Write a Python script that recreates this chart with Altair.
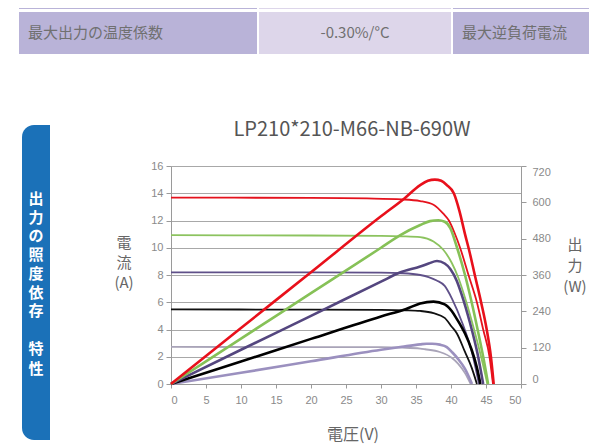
import altair as alt
import pandas as pd

# ---------------- data ----------------
levels = ["200", "400", "600", "800", "1000"]

# I-V curves: voltage (V) and current (A)
iv_v_1000 = [0, 20, 28, 33, 35.6, 37.5, 38.9, 39.7, 40.5, 41.3, 42.5, 43.7, 44.6, 45.5, 46.0]
iv_i_1000 = [13.68, 13.66, 13.62, 13.55, 13.43, 13.16, 12.5, 12.0, 11.1, 10.0, 8.0, 6.0, 4.0, 2.0, 0]
iv_v_800 = [0, 20, 30, 33, 35.6, 37.5, 38.9, 40.1, 41.05, 42.2, 43.3, 44.3, 45.2]
iv_i_800 = [10.92, 10.9, 10.87, 10.84, 10.78, 10.46, 9.85, 8.9, 7.8, 6.0, 4.0, 2.0, 0]
iv_v_600 = [0, 20, 30, 33, 35.6, 36.8, 37.96, 39.1, 40.2, 41.6, 42.95, 44.0]
iv_i_600 = [8.2, 8.19, 8.17, 8.13, 8.0, 7.85, 7.6, 7.2, 6.2, 4.5, 2.4, 0]
iv_v_400 = [0, 20, 30, 33.6, 35.6, 37.5, 39.1, 40.1, 40.8, 42.0, 42.95, 43.7]
iv_i_400 = [5.47, 5.46, 5.44, 5.41, 5.36, 5.2, 4.85, 4.2, 3.75, 2.35, 1.2, 0]
iv_v_200 = [0, 20, 30, 33, 35.6, 36.3, 38.4, 40.1, 41.0, 42.0, 42.8]
iv_i_200 = [2.72, 2.71, 2.7, 2.67, 2.6, 2.55, 2.35, 1.93, 1.5, 0.8, 0]

# P-V curves: voltage (V) and power (W)
pv_v_1000 = [0, 10, 20, 30, 33.3, 35.6, 36.7, 37.7, 38.6, 39.4, 40.4, 41.2, 42.0, 42.6, 43.4, 44.3, 45.1, 45.7, 46.1]
pv_p_1000 = [0, 185, 369, 554, 612, 657, 671, 675, 671, 657, 630, 572, 495, 441, 360, 270, 180, 90, 0]
pv_v_800 = [0, 10, 20, 30, 32.7, 35.6, 37.0, 38.2, 39.1, 39.9, 40.8, 42.0, 42.95, 43.8, 44.6, 45.3]
pv_p_800 = [0, 150, 300, 450, 491, 525, 538, 541, 536, 515, 455, 360, 270, 180, 90, 0]
pv_v_600 = [0, 10, 20, 30, 32.7, 35.6, 36.8, 38.0, 39.1, 39.9, 40.8, 41.5, 42.7, 43.8, 44.6]
pv_p_600 = [0, 113, 225, 338, 368, 388, 398, 406, 398, 380, 342, 297, 203, 99, 0]
pv_v_400 = [0, 10, 20, 30, 33.6, 35.6, 37.5, 39.1, 40.1, 40.8, 41.5, 42.0, 42.95, 43.7, 44.2]
pv_p_400 = [0, 74, 149, 223, 248, 266, 272, 263, 241, 216, 189, 167, 113, 54, 0]
pv_v_200 = [0, 10, 20, 30, 33, 35.6, 36.5, 37.3, 38.4, 39.4, 40.2, 41.0, 42.0, 43.0]
pv_p_200 = [0, 37, 75, 113, 123, 131, 133, 133, 130, 122, 104, 83, 50, 0]

curve_keys = ["I200", "I400", "I600", "I800", "I1000", "P200", "P400", "P600", "P800", "P1000"]
curve_colors = ["#a9a4b8", "#111111", "#5f5089", "#8cc35f", "#e5121d",
                "#9b90bf", "#000000", "#54467f", "#86c157", "#e8101b"]

x_ticks = list(range(0, 51, 5))
left_ticks = list(range(0, 17, 2))
right_ticks = [0, 120, 240, 360, 480, 600, 720]

title_text = "LP210*210-M66-NB-690W"
x_title = "電圧(V)"
left_title = "電\n流\n(A)"
right_title = "出\n力\n(W)"
side_label_1 = "出\n力\nの\n照\n度\n依\n存"
side_label_2 = "特\n性"
table_cells = ["最大出力の温度係数", "-0.30%/°C", "最大逆負荷電流"]

# ---------------- tables ----------------
iv_rows = []
for lv, vs, cs in [("200", iv_v_200, iv_i_200), ("400", iv_v_400, iv_i_400),
                   ("600", iv_v_600, iv_i_600), ("800", iv_v_800, iv_i_800),
                   ("1000", iv_v_1000, iv_i_1000)]:
    for v, c in zip(vs, cs):
        iv_rows.append({"V": v, "I": c, "curve": "I" + lv})
iv_df = pd.DataFrame(iv_rows)

pv_rows = []
for lv, vs, ps in [("200", pv_v_200, pv_p_200), ("400", pv_v_400, pv_p_400),
                   ("600", pv_v_600, pv_p_600), ("800", pv_v_800, pv_p_800),
                   ("1000", pv_v_1000, pv_p_1000)]:
    for v, p in zip(vs, ps):
        pv_rows.append({"V": v, "P": p, "curve": "P" + lv})
pv_df = pd.DataFrame(pv_rows)

one = pd.DataFrame({"k": [0]})

W, H = 350, 218
color = alt.Color("curve:N", scale=alt.Scale(domain=curve_keys, range=curve_colors), legend=None)
xenc = alt.X("V:Q", scale=alt.Scale(domain=[0, 50], nice=False),
             axis=alt.Axis(values=x_ticks, title=None, grid=False, labelFont="Liberation Sans",
                           labelFontSize=11, labelColor="#8a8a8a", tickColor="#9a9a9a",
                           domainColor="#9a9a9a", tickSize=4, labelPadding=6))

iv_layer = alt.Chart(iv_df).mark_line(strokeWidth=1.8, interpolate="monotone").encode(
    x=xenc,
    y=alt.Y("I:Q", scale=alt.Scale(domain=[0, 16], nice=False),
            axis=alt.Axis(values=left_ticks, title=None, grid=True, gridColor="#a8a8a8",
                          gridWidth=1, labelFont="Liberation Sans", labelFontSize=11,
                          labelColor="#8a8a8a", tickColor="#9a9a9a", domainColor="#9a9a9a",
                          tickSize=5, labelPadding=3)),
    color=color,
    detail="curve:N",
)

pv_layer = alt.Chart(pv_df).mark_line(strokeWidth=2.6, interpolate="monotone").encode(
    x=xenc,
    y=alt.Y("P:Q", scale=alt.Scale(domain=[0, 720], nice=False),
            axis=alt.Axis(values=right_ticks, orient="right", title=None, grid=False,
                          labelFont="Liberation Sans", labelFontSize=11, labelColor="#8a8a8a",
                          tickColor="#9a9a9a", domainColor="#9a9a9a", tickSize=5,
                          labelPadding=6, labelFlush=True)),
    color=color,
    detail="curve:N",
)

# page (X, Y) -> plot coords (X-171, Y-166)
def rect(x1, y1, x2, y2, fill, **kw):
    return alt.Chart(one).mark_rect(color=fill, **kw).encode(
        x=alt.value(x1 - 171), x2=alt.value(x2 - 171),
        y=alt.value(y1 - 166), y2=alt.value(y2 - 166))

def text(s, x, y, size, fill, align="center", font="Noto Sans CJK JP", weight="normal", lh=None):
    kw = dict(text=s, align=align, baseline="middle", font=font, fontSize=size,
              color=fill, fontWeight=weight, lineBreak="\n")
    if lh is not None:
        kw["lineHeight"] = lh
    return alt.Chart(one).mark_text(**kw).encode(x=alt.value(x - 171), y=alt.value(y - 166))

deco = [
    rect(19, 0, 257, 9, "#b9b3d8"), rect(259, 0, 451, 9, "#ddd6ea"), rect(453, 0, 600, 9, "#b9b3d8"),
    rect(19, 12, 257, 54, "#b9b3d8"), rect(259, 12, 451, 54, "#ddd6ea"), rect(453, 12, 600, 54, "#b9b3d8"),
    text(table_cells[0], 28, 33, 15, "#707070", align="left"),
    text(table_cells[1], 355, 33, 15, "#707070"),
    text(table_cells[2], 462, 33, 15, "#707070", align="left"),
    rect(22, 125, 50, 440, "#1b71b8", cornerRadiusTopLeft=12, cornerRadiusBottomLeft=12),
    text(side_label_1, 36, 199, 15, "white", weight="bold", lh=18.7),
    text(side_label_2, 36, 349, 15, "white", weight="bold", lh=19.5),
    text(title_text, 352, 130, 20, "#555555"),
    text(left_title, 124, 243, 15, "#666666", lh=20),
    text(right_title, 575, 245, 15, "#666666", lh=21),
    text(x_title, 353, 435, 16, "#666666"),
]

chart = alt.layer(iv_layer, pv_layer, *deco).resolve_scale(y="independent").properties(
    width=W, height=H,
    autosize=alt.AutoSizeParams(type="none"),
    padding={"left": 163, "top": 158, "right": 68, "bottom": 60},
).configure_view(stroke=None).configure(background="white")

chart.save("out.html", embed_options={"renderer": "svg", "actions": False})
